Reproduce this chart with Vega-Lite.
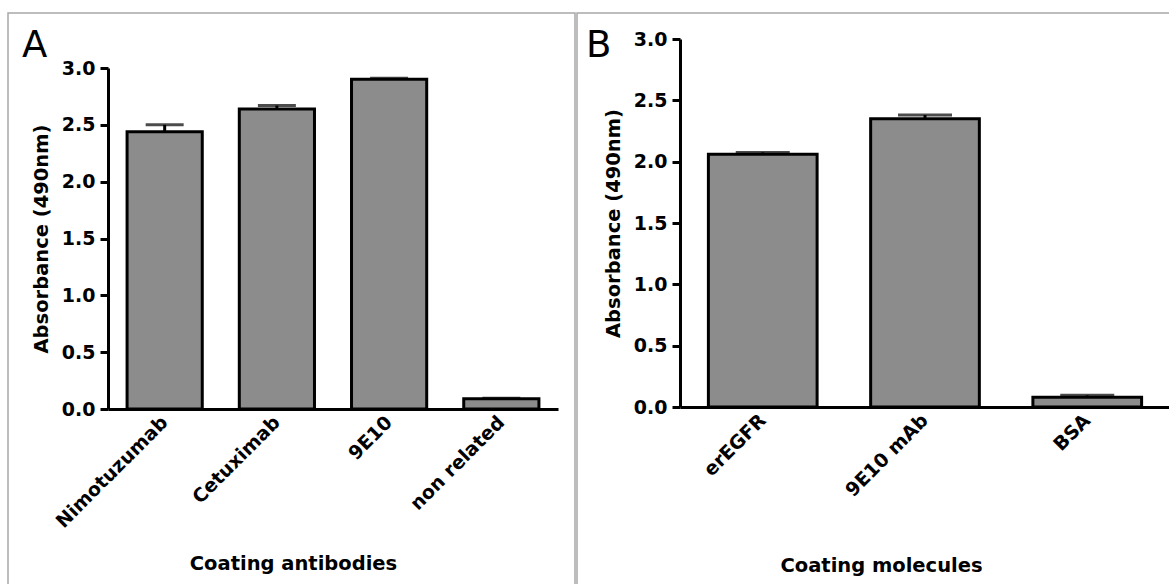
{
  "$schema": "https://vega.github.io/schema/vega-lite/v6.json",
  "padding": {"left": 7, "top": 12, "right": 0, "bottom": 0},
  "autosize": {"type": "pad"},
  "spacing": 0,
  "background": "white",
  "config": {
    "font": "DejaVu Sans",
    "view": {"stroke": "#a8a8a8", "strokeWidth": 1.5},
    "axis": {
      "domainColor": "black", "domainWidth": 3, "tickColor": "black", "tickWidth": 3,
      "labelColor": "black", "titleColor": "black",
      "labelFont": "DejaVu Sans", "labelFontWeight": "bold", "labelFontSize": 19,
      "titleFont": "DejaVu Sans", "titleFontWeight": "bold", "titleFontSize": 19.5,
      "grid": false
    }
  },
  "datasets": {
    "A": [
      {"coating": "Nimotuzumab", "absorbance": 2.44, "upper": 2.5},
      {"coating": "Cetuximab", "absorbance": 2.64, "upper": 2.67},
      {"coating": "9E10", "absorbance": 2.9, "upper": 2.91},
      {"coating": "non related", "absorbance": 0.09, "upper": 0.095}
    ],
    "B": [
      {"coating": "erEGFR", "absorbance": 2.06, "upper": 2.075},
      {"coating": "9E10 mAb", "absorbance": 2.35, "upper": 2.38},
      {"coating": "BSA", "absorbance": 0.08, "upper": 0.095}
    ]
  },
  "hconcat": [
    {
      "width": 567, "height": 572,
      "data": {"name": "A"},
      "title": {"text": "A", "anchor": "start", "frame": "group", "fontSize": 37, "fontWeight": "normal", "font": "DejaVu Sans", "color": "black", "offset": -81, "baseline": "alphabetic", "dx": 14},
      "encoding": {
        "x": {
          "field": "coating", "type": "nominal", "sort": null,
          "scale": {"range": [100, 550], "paddingInner": 0.33, "paddingOuter": 0.17},
          "axis": {"title": "Coating antibodies", "labelAngle": -45, "labelAlign": "right", "labelBaseline": "middle", "ticks": false, "labelPadding": 10, "offset": -176, "titleX": 285, "titleY": 160, "titleAlign": "center", "titleBaseline": "alphabetic"}
        }
      },
      "layer": [
        {
          "mark": {"type": "bar", "fill": "#8c8c8c", "stroke": "black", "strokeWidth": 3},
          "encoding": {
            "y": {"field": "absorbance", "type": "quantitative", "scale": {"domain": [0, 3], "range": [396, 55], "nice": false},
              "axis": {"title": "Absorbance (490nm)", "values": [0, 0.5, 1, 1.5, 2, 2.5, 3], "format": ".1f", "tickSize": 8, "labelPadding": 5, "titlePadding": 10, "offset": -100}}
          }
        },
        {
          "mark": {"type": "rule", "color": "black", "strokeWidth": 3},
          "encoding": {"y": {"field": "absorbance", "type": "quantitative"}, "y2": {"field": "upper"}}
        },
        {
          "mark": {"type": "tick", "color": "black", "thickness": 3, "size": 38},
          "encoding": {"y": {"field": "upper", "type": "quantitative"}}
        }
      ]
    },
    {
      "width": 596, "height": 572,
      "data": {"name": "B"},
      "title": {"text": "B", "anchor": "start", "frame": "group", "fontSize": 37, "fontWeight": "normal", "font": "DejaVu Sans", "color": "black", "offset": -81, "baseline": "alphabetic", "dx": 9},
      "encoding": {
        "x": {
          "field": "coating", "type": "nominal", "sort": null,
          "scale": {"range": [103, 593], "paddingInner": 0.33, "paddingOuter": 0.175},
          "axis": {"title": "Coating molecules", "labelAngle": -45, "labelAlign": "right", "labelBaseline": "middle", "ticks": false, "labelPadding": 10, "offset": -178, "titleX": 304, "titleY": 164, "titleAlign": "center", "titleBaseline": "alphabetic"}
        }
      },
      "layer": [
        {
          "mark": {"type": "bar", "fill": "#8c8c8c", "stroke": "black", "strokeWidth": 3},
          "encoding": {
            "y": {"field": "absorbance", "type": "quantitative", "scale": {"domain": [0, 3], "range": [394, 26], "nice": false},
              "axis": {"title": "Absorbance (490nm)", "values": [0, 0.5, 1, 1.5, 2, 2.5, 3], "format": ".1f", "tickSize": 8, "labelPadding": 5, "titlePadding": 10, "offset": -103}}
          }
        },
        {
          "mark": {"type": "rule", "color": "black", "strokeWidth": 3},
          "encoding": {"y": {"field": "absorbance", "type": "quantitative"}, "y2": {"field": "upper"}}
        },
        {
          "mark": {"type": "tick", "color": "black", "thickness": 3, "size": 54},
          "encoding": {"y": {"field": "upper", "type": "quantitative"}}
        }
      ]
    }
  ]
}
